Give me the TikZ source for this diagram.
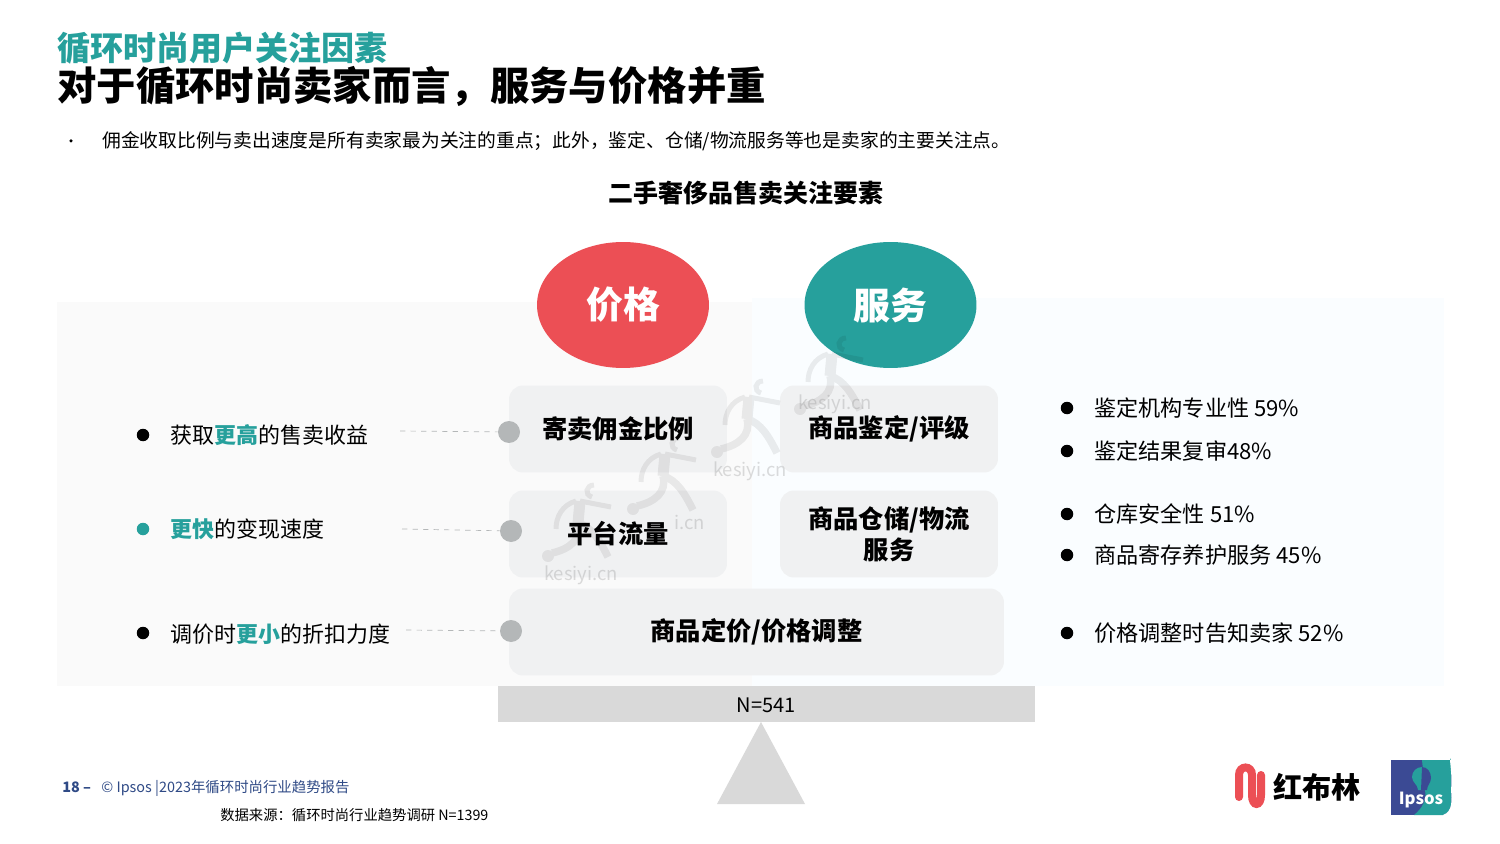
\documentclass[tikz,border=0pt]{standalone}
\usepackage{fontspec}
\setmainfont{Noto Sans CJK SC}
\usetikzlibrary{positioning}
\usetikzlibrary{shapes}
\definecolor{tealc}{HTML}{26A09C}
\definecolor{redc}{HTML}{EC4F55}
\definecolor{navyc}{HTML}{2F4A86}
\definecolor{ipsosblue}{HTML}{3B4A94}
\definecolor{boxc}{HTML}{F0F1F2}
\definecolor{dotc}{HTML}{B4B7B8}
\definecolor{basec}{HTML}{D9D9D9}
\newcommand{\hl}[1]{\textcolor{tealc}{\textbf{#1}}}
\tikzset{
  factorbox/.style={draw=none,fill=boxc,rounded corners=2.8mm,minimum height=1.74cm,font=\fontsize{14.4}{17.5}\selectfont\bfseries,align=center},
  headoval/.style={ellipse,draw=none,minimum width=3.44cm,minimum height=2.52cm,text=white,font=\fontsize{21}{25}\selectfont\bfseries},
  grayball/.style={circle,fill=dotc,minimum size=0.44cm},
  blackdot/.style={circle,fill=black,minimum size=0.25cm},
  listtext/.style={anchor=west,font=\fontsize{12.6}{15}\selectfont},
  gaintext/.style={anchor=west,font=\fontsize{12.5}{15}\selectfont},
  leader/.style={draw=dotc,dashed,thin},
  wmark/.style={text=black!45,opacity=.3,font=\fontsize{10.5}{12}\selectfont},
  runner/.pic={
    \begin{scope}[transparency group,opacity=.07,black,line cap=round,line join=round]
    \draw[line width=0.22cm] (2,-20) -- (0,2);
    \draw[line width=0.1cm] (2,-20) -- (33,-14);
    \draw[line width=0.1cm] (-2,-20) .. controls (-16,-16) and (-22,-4) .. (-22,8);
    \draw[line width=0.15cm] (0,2) .. controls (14,6) and (22,20) .. (30,36);
    \draw[line width=0.15cm] (0,2) .. controls (4,18) and (-8,28) .. (-26,32);
    \fill (-30,35) circle (6);
    \draw[line width=0.1cm] (16,-36) .. controls (8,-36) and (6,-26) .. (14,-24);
    \end{scope}
  }
}
\begin{document}
\begin{tikzpicture}[every node/.style={inner sep=0pt},x=0.02cm,y=-0.02cm]
\useasboundingbox (0,0) rectangle (1500,844);
\fill[white] (0,0) rectangle (1500,844);
\fill[black!2] (57,302) rectangle (752,686);
\fill[blue!30!cyan!2] (752,298) rectangle (1444,686);

\node[anchor=west,text=tealc,font=\fontsize{18.8}{22}\selectfont\bfseries] (title) at (57,48) {循环时尚用户关注因素};
\node[anchor=west,font=\fontsize{22.4}{28}\selectfont\bfseries] (headline) at (57,86) {对于循环时尚卖家而言，服务与价格并重};
\node[circle,fill=black,minimum size=0.07cm] (lead) at (71,141) {};
\node[anchor=west,font=\fontsize{10.68}{13}\selectfont] (leadtext) at (102,141) {佣金收取比例与卖出速度是所有卖家最为关注的重点；此外，鉴定、仓储/物流服务等也是卖家的主要关注点。};
\node[font=\fontsize{14.2}{17}\selectfont\bfseries] (charttitle) at (746,193) {二手奢侈品售卖关注要素};

\node[headoval,fill=redc] (price) at (623,305) {价格};
\node[headoval,fill=tealc] (service) at (890.5,305) {服务};

\node[factorbox,minimum width=4.36cm] (commission) at (618,429) {寄卖佣金比例};
\node[factorbox,minimum width=4.36cm] (appraise) at (889,429) {商品鉴定/评级};
\node[factorbox,minimum width=4.36cm] (traffic) at (618,534) {平台流量};
\node[factorbox,minimum width=4.36cm] (storage) at (889,534) {商品仓储/物流\\服务};
\node[factorbox,minimum width=9.9cm] (pricing) at (756.5,632) {\raisebox{-1pt}{商品定价/价格调整}};

\node[grayball] (ballA) at (509,432) {};
\node[grayball] (ballB) at (511,531) {};
\node[grayball] (ballC) at (511,631) {};

\node[blackdot] (dotA) at (143,435) {};
\node[gaintext] (gainA) at (170,435) {获取\hl{更高}的售卖收益};
\node[blackdot,fill=tealc] (dotB) at (143,529) {};
\node[gaintext] (gainB) at (170,529) {\hl{更快}的变现速度};
\node[blackdot] (dotC) at (143,633) {};
\node[gaintext] (gainC) at (170,634) {调价时\hl{更小}的折扣力度};

\coordinate (leadA) at (400,431);
\coordinate (leadB) at (402,529);
\coordinate (leadC) at (406,630);
\draw[leader] (leadA) -- (ballA);
\draw[leader] (leadB) -- (ballB);
\draw[leader] (leadC) -- (ballC);

\foreach \n/\y/\t in {a/408/鉴定机构专业性 59\%,b/451/鉴定结果复审48\%,c/514/仓库安全性 51\%,d/555/商品寄存养护服务 45\%,e/633/价格调整时告知卖家 52\%}{%
\node[blackdot] (r\n) at (1067,\y) {};
\node[listtext] (s\n) at (1094,\y) {\t};
}

\fill[basec] (498,686) rectangle (1035,722);
\node[font=\fontsize{11.4}{14}\selectfont] (sample) at (766,705) {N=541};
\fill[basec] (761,722) -- (805,804) -- (717,804) -- cycle;

\foreach \x/\y in {830/374,747/417,663/474,578/521}{%
\pic at (\x,\y) {runner};
}
\node[wmark] (markA) at (835,404) {kesiyi.cn};
\node[wmark] (markB) at (750,471) {kesiyi.cn};
\node[wmark,anchor=east] (markC) at (705,522) {i.cn};
\node[wmark] (markD) at (581,575) {kesiyi.cn};

\node[anchor=west,text=navyc,font=\fontsize{8.2}{10}\selectfont] (footer) at (62,788) {\textbf{18 –}\hspace{4pt} © Ipsos |2023年循环时尚行业趋势报告};
\node[anchor=west,font=\fontsize{8.15}{10}\selectfont] (source) at (220,815) {数据来源：循环时尚行业趋势调研 N=1399};

\draw[redc,line width=0.16cm,line cap=round] (1239,797) -- (1239,775) .. controls (1239,765) and (1252,765) .. (1252,775) -- (1252,795) .. controls (1252,807) and (1261,807) .. (1261,795) -- (1261,775);
\node[anchor=west,font=\fontsize{16.6}{20}\selectfont\bfseries] (brand) at (1273,787) {红布林};

\fill[ipsosblue] (1391,760) rectangle (1452,815);
\fill[tealc] (1422,760) -- (1450,760) to[out=85,in=-85] (1451,790) to[out=-85,in=20] (1443,815) -- (1414,815) to[out=40,in=-80] (1425,790) -- cycle;
\fill[white] (1450,760) -- (1453,760) -- (1453,815) -- (1443,815) to[out=20,in=-85] (1451,790) to[out=85,in=-85] cycle;
\fill[tealc] (1422,767) to[out=180,in=90] (1412,777) to[out=-90,in=90] (1418,790) -- (1425,790) -- cycle;
\fill[ipsosblue] (1422,767) to[out=0,in=90] (1431,778) to[out=-90,in=90] (1427,790) -- (1421,790) -- cycle;
\node[text=white,font=\fontsize{9.5}{12}\selectfont\bfseries] (ipsos) at (1421,800) {Ipsos};
\end{tikzpicture}
\end{document}
